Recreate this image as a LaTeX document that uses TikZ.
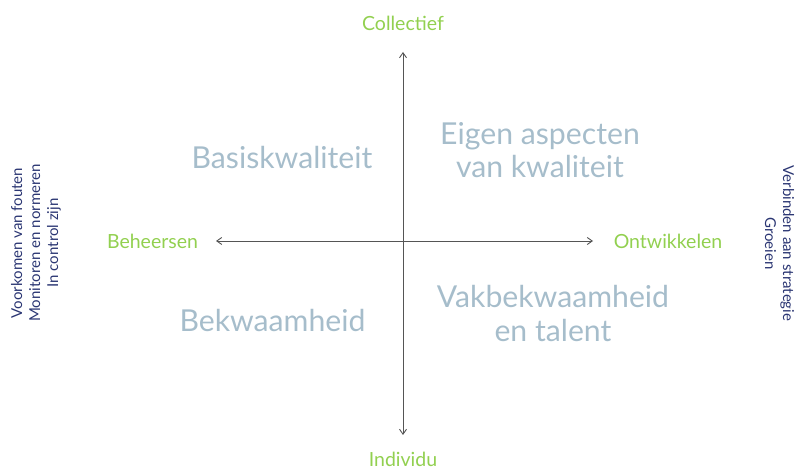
\documentclass[tikz,border=0pt]{standalone}
\usepackage{fontspec}
\setmainfont{Lato}
\usetikzlibrary{arrows.meta}
\definecolor{lgreen}{HTML}{92D050}
\definecolor{qgrey}{HTML}{A6BDCB}
\definecolor{navy}{HTML}{2B3673}
\definecolor{axis}{HTML}{555555}
\tikzset{
  axislabel/.style={text=lgreen, font=\fontsize{19.5}{22}\selectfont, inner sep=0pt, anchor=base},
  quadlabel/.style={text=qgrey, font=\fontsize{30.2}{33}\selectfont, align=center, inner sep=0pt, anchor=base},
  sidelabel/.style={text=navy, font=\fontsize{15}{18}\selectfont, align=center, inner sep=0pt, anchor=base},
  axisline/.style={draw=axis, line width=0.9pt, -{Straight Barb[length=5pt,width=7pt]}}
}
\begin{document}
\begin{tikzpicture}[x=1pt,y=-1pt]
\useasboundingbox (0,0) rectangle (796,470);
\coordinate (c) at (403,241);
\coordinate (top) at (403,52);
\coordinate (bot) at (403,435);
\coordinate (lft) at (216,241);
\coordinate (rgt) at (593,241);
\draw[axisline] (c) -- (top);
\draw[axisline] (c) -- (bot);
\draw[axisline] (c) -- (lft);
\draw[axisline] (c) -- (rgt);
\node[axislabel] (coll) at (403,31) {Collectief};
\node[axislabel] (ind) at (403,467) {Individu};
\node[axislabel] (beh) at (152.5,249) {Beheersen};
\node[axislabel] (ontw) at (668,249) {Ontwikkelen};
\node[quadlabel] (basis) at (282,169) {Basiskwaliteit};
\node[quadlabel] (eigen) at (540,178) {Eigen aspecten\\van kwaliteit};
\node[quadlabel] (bekw) at (272.5,332) {Bekwaamheid};
\node[quadlabel, font=\fontsize{30.2}{34}\selectfont] (vak) at (553,342) {Vakbekwaamheid\\en talent};
\node[sidelabel, rotate=90] (links) at (58,243) {Voorkomen van fouten\\Monitoren en normeren\\In control zijn};
\node[sidelabel, rotate=-90] (rechts) at (765,243.5) {Verbinden aan strategie\\Groeien};
\end{tikzpicture}
\end{document}
